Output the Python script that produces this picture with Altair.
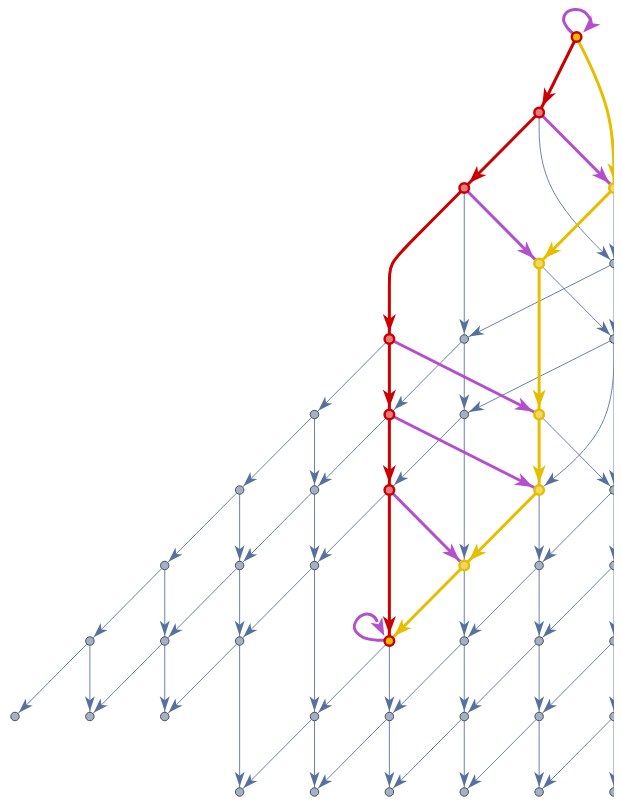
import math
import altair as alt
import pandas as pd

# ---------------- data (grid units: column, row) ----------------
node_col = [7.5,
            7,
            6, 8,
            7, 8,
            5, 6, 8,
            4, 5, 6, 7,
            3, 4, 5, 7, 8,
            2, 3, 4, 6, 7, 8,
            1, 2, 3, 5, 6, 7, 8,
            0, 1, 2, 4, 5, 6, 7, 8,
            3, 4, 5, 6, 7, 8]
node_row = [0,
            1,
            2, 2,
            3, 3,
            4, 4, 4,
            5, 5, 5, 5,
            6, 6, 6, 6, 6,
            7, 7, 7, 7, 7, 7,
            8, 8, 8, 8, 8, 8, 8,
            9, 9, 9, 9, 9, 9, 9, 9,
            10, 10, 10, 10, 10, 10]
node_kind = (["both"] +
             ["red"] +
             ["red", "yellow"] +
             ["yellow", "plain"] +
             ["red", "plain", "plain"] +
             ["plain", "red", "plain", "yellow"] +
             ["plain", "plain", "red", "yellow", "plain"] +
             ["plain", "plain", "plain", "yellow", "plain", "plain"] +
             ["plain", "plain", "plain", "both", "plain", "plain", "plain"] +
             ["plain"] * 8 +
             ["plain"] * 6)

# straight edges: (from col, from row, to col, to row)
grey_edges = [
    (6, 2, 6, 4), (7, 3, 8, 4), (8, 3, 6, 4), (8, 4, 6, 5), (8, 2, 8, 3), (8, 3, 8, 4),
    (8, 4, 8, 6),
    (5, 4, 4, 5), (6, 4, 6, 5), (6, 4, 5, 5), (5, 5, 4, 6), (6, 5, 5, 6), (6, 5, 6, 7),
    (7, 5, 8, 6), (4, 5, 3, 6), (4, 5, 4, 6), (7, 6, 7, 7), (5, 6, 4, 7),
    (4, 6, 4, 7), (4, 6, 3, 7), (3, 6, 3, 7), (3, 6, 2, 7), (8, 6, 7, 7), (8, 6, 8, 7),
    (6, 7, 6, 8), (7, 7, 6, 8), (7, 7, 7, 8), (8, 7, 7, 8), (8, 7, 8, 8),
    (4, 7, 4, 9), (4, 7, 3, 8), (3, 7, 3, 8), (3, 7, 2, 8), (2, 7, 2, 8), (2, 7, 1, 8),
    (3, 8, 3, 10), (3, 8, 2, 9), (2, 8, 2, 9), (2, 8, 1, 9), (1, 8, 1, 9), (1, 8, 0, 9),
    (5, 8, 5, 9), (5, 8, 4, 9), (6, 8, 6, 9), (6, 8, 5, 9), (7, 8, 7, 9), (7, 8, 6, 9),
    (8, 8, 8, 9), (8, 8, 7, 9),
    (4, 9, 4, 10), (4, 9, 3, 10), (5, 9, 5, 10), (5, 9, 4, 10), (6, 9, 6, 10),
    (6, 9, 5, 10), (7, 9, 7, 10), (7, 9, 6, 10), (8, 9, 8, 10), (8, 9, 7, 10),
]
purple_edges = [(7, 1, 8, 2), (6, 2, 7, 3), (5, 4, 7, 5), (5, 5, 7, 6), (5, 6, 6, 7)]
yellow_edges = [(8, 2, 7, 3), (7, 3, 7, 5), (7, 5, 7, 6), (7, 6, 6, 7), (6, 7, 5, 8)]
red_edges = [(7.5, 0, 7, 1), (7, 1, 6, 2), (5, 4, 5, 5), (5, 5, 5, 6), (5, 6, 5, 8)]

# curved edges: kind and routing waypoints
curve_kind = ["yellow", "red", "plain", "plain"]
curve_pts = [
    [(7.5, 0), (8, 1), (8, 2)],
    [(6, 2), (5.25, 2.75), (5, 3), (5, 3.25), (5, 4)],
    [(7, 1), (7, 2), (8, 3)],
    [(8, 4), (8, 5.2), (7, 6)],
]

# self loops: node, loop outline (pixel offsets from node), arrow tip offset
loop_node = [(7.5, 0), (5, 8)]
loop_outline = [
    [(-3, -3), (-9, -9), (-13, -17), (-10, -24.5), (-1, -27.5), (8, -25), (13, -19), (15, -13)],
    [(-4, -1), (-14, -1), (-27, -4), (-35, -13), (-31, -23), (-22, -27), (-15, -24), (-12, -19)],
]
loop_tip = [(6.5, -4.5), (-5, -5)]

# ---------------- styling / layout ----------------
PXX, PXY = 74.875, 75.5
W, H = 606, 790
X0, Y0 = -7 / PXX, -29 / PXY
RED = "#CC0000"
YELLOW = "#E6BE00"
PURPLE = "#B34FCF"
EDGE = "#6A83AB"
HEAD = "#56719E"
NODE_FILL = "#A3B1C8"
NODE_STROKE = "#505050"
kind_color = {"red": RED, "yellow": YELLOW, "purple": PURPLE}
node_fill = {"red": "#E67C7C", "yellow": "#F2D965", "both": "#E6BE00"}
node_stroke = {"red": RED, "yellow": YELLOW, "both": RED}
R_PLAIN, R_HI = 5.3, 6.9

HEAD_SMALL = "M0,0L-15,-5L-11,0L-15,5Z"
HEAD_BIG = "M0,0L-18,-6.6L-13,0L-18,6.6Z"

xs = alt.Scale(domain=[X0, X0 + W / PXX], nice=False, zero=False)
ys = alt.Scale(domain=[Y0, Y0 + H / PXY], nice=False, zero=False, reverse=True)


def X(f):
    return alt.X(f, type="quantitative", scale=xs, axis=None)


def Y(f):
    return alt.Y(f, type="quantitative", scale=ys, axis=None)


kind_at = {(c, r): k for c, r, k in zip(node_col, node_row, node_kind)}


def head(dst, dx, dy, kind):
    """arrowhead record: tip on target node rim, pointing along (dx, dy)"""
    px, py = dx * PXX, dy * PXY
    ln = math.hypot(px, py)
    rad = R_PLAIN if kind_at.get(dst, "plain") == "plain" else R_HI
    tipx = dst[0] - px / ln * rad / PXX
    tipy = dst[1] - py / ln * rad / PXY
    ang = math.degrees(math.atan2(py, px)) % 360
    return {"x": tipx, "y": tipy, "angle": ang, "kind": kind}


def edge_df(edges, kind):
    return pd.DataFrame([{"x": a, "y": b, "x2": c, "y2": d, "kind": kind} for a, b, c, d in edges])


heads_small, heads_big = [], []
for a, b, c, d in grey_edges:
    heads_small.append(head((c, d), c - a, d - b, "plain"))
for kind, edges in (("purple", purple_edges), ("yellow", yellow_edges), ("red", red_edges)):
    for a, b, c, d in edges:
        heads_big.append(head((c, d), c - a, d - b, kind))

curve_rows = []
for i, (k, pts) in enumerate(zip(curve_kind, curve_pts)):
    for j, (cx, cy) in enumerate(pts):
        curve_rows.append({"cid": i, "i": j, "x": cx, "y": cy, "kind": k})
    (pa, pb), (qa, qb) = pts[-2], pts[-1]
    h = head((qa, qb), qa - pa, qb - pb, k)
    (heads_small if k == "plain" else heads_big).append(h)
curves = pd.DataFrame(curve_rows)

loop_rows = []
for i, ((nc, nr), outline, tip) in enumerate(zip(loop_node, loop_outline, loop_tip)):
    for j, (ox, oy) in enumerate(outline):
        loop_rows.append({"lid": i, "i": j, "x": nc + ox / PXX, "y": nr + oy / PXY})
    ex, ey = outline[-1]
    ang = math.degrees(math.atan2(tip[1] - ey, tip[0] - ex)) % 360
    heads_big.append({"x": nc + tip[0] / PXX, "y": nr + tip[1] / PXY, "angle": ang, "kind": "purple"})
loops = pd.DataFrame(loop_rows)

nodes = pd.DataFrame({"x": node_col, "y": node_row, "kind": node_kind})
plain_nodes = nodes[nodes.kind == "plain"]
hi_nodes = nodes[nodes.kind != "plain"]

col_scale = alt.Scale(domain=list(kind_color), range=list(kind_color.values()))

# ---------------- layers ----------------
grey_lines = alt.Chart(edge_df(grey_edges, "plain")).mark_rule(
    color=EDGE, strokeWidth=1).encode(x=X("x"), y=Y("y"), x2="x2:Q", y2="y2:Q")

grey_curves = alt.Chart(curves[curves.kind == "plain"]).mark_line(
    interpolate="basis", color=EDGE, strokeWidth=1).encode(
    x=X("x"), y=Y("y"), detail="cid:N", order="i:Q")

hi_lines = alt.Chart(pd.concat([edge_df(purple_edges, "purple"), edge_df(yellow_edges, "yellow"),
                                edge_df(red_edges, "red")])).mark_rule(strokeWidth=3).encode(
    x=X("x"), y=Y("y"), x2="x2:Q", y2="y2:Q",
    color=alt.Color("kind:N", scale=col_scale, legend=None))

hi_curves = alt.Chart(curves[curves.kind != "plain"]).mark_line(
    interpolate="basis", strokeWidth=3).encode(
    x=X("x"), y=Y("y"), detail="cid:N", order="i:Q",
    color=alt.Color("kind:N", scale=col_scale, legend=None))

loop_lines = alt.Chart(loops).mark_line(
    interpolate="catmull-rom", strokeWidth=3, color=PURPLE).encode(
    x=X("x"), y=Y("y"), detail="lid:N", order="i:Q")

small_heads = alt.Chart(pd.DataFrame(heads_small)).mark_point(
    shape=HEAD_SMALL, size=4, filled=True, opacity=1, fill=HEAD, strokeWidth=0).encode(
    x=X("x"), y=Y("y"), angle=alt.Angle("angle:Q", scale=None))

big_heads = alt.Chart(pd.DataFrame(heads_big)).mark_point(
    shape=HEAD_BIG, size=4, filled=True, opacity=1, strokeWidth=0).encode(
    x=X("x"), y=Y("y"), angle=alt.Angle("angle:Q", scale=None),
    fill=alt.Fill("kind:N", scale=col_scale, legend=None))

plain_pts = alt.Chart(plain_nodes).mark_point(
    shape="circle", size=72, filled=True, opacity=1, fill=NODE_FILL,
    stroke=NODE_STROKE, strokeWidth=1).encode(x=X("x"), y=Y("y"))

hi_pts = alt.Chart(hi_nodes).mark_point(
    shape="circle", size=92, filled=True, opacity=1, strokeWidth=2.5).encode(
    x=X("x"), y=Y("y"),
    fill=alt.Fill("kind:N", scale=alt.Scale(domain=list(node_fill), range=list(node_fill.values())),
                  legend=None),
    stroke=alt.Stroke("kind:N", scale=alt.Scale(domain=list(node_stroke),
                                                range=list(node_stroke.values())), legend=None))

chart = alt.layer(
    grey_lines, grey_curves, hi_lines, hi_curves, loop_lines,
    small_heads, big_heads, plain_pts, hi_pts
).resolve_scale(color="independent", fill="independent", stroke="independent").properties(
    width=W, height=H, padding=0, autosize="none", background="white"
).configure_view(strokeWidth=0)

chart.save("out.html", embed_options={"renderer": "svg", "actions": False})
